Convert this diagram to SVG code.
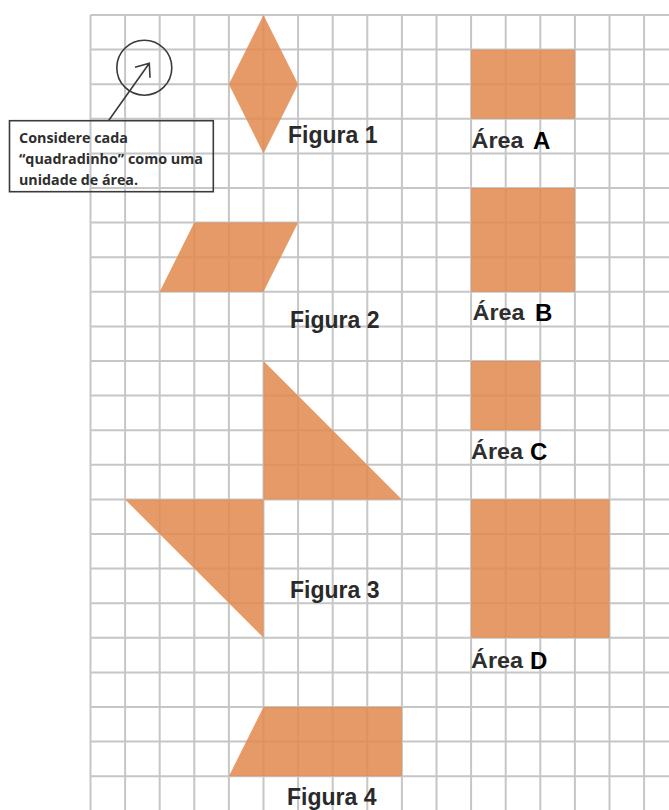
<svg xmlns="http://www.w3.org/2000/svg" width="669" height="810" viewBox="0 0 669 810">
<style>
.grid{fill:none;stroke:#c6c6c6;stroke-width:2}
.shape{fill:#e2894f;fill-opacity:0.86}
.fig{font-family:"Liberation Sans",Arial,sans-serif;font-weight:bold;font-size:23px;fill:#2a2a2a}
.area{font-family:"Liberation Sans",Arial,sans-serif;font-weight:bold;font-size:22px;fill:#2e2e2e}
.letter{font-family:"Liberation Sans",Arial,sans-serif;font-weight:bold;font-size:24px;fill:#000}
.note{font-family:"Open Sans","Liberation Sans",sans-serif;font-weight:bold;font-size:15px;fill:#2e2e2e}
.ink{fill:none;stroke:#3a3a3a;stroke-width:1.6}
</style>
<rect width="669" height="810" fill="#fff"/>
<g id="grid">
<path class="grid" d="M90.5 15V810M125.1 15V810M159.7 15V810M194.3 15V810M228.9 15V810M263.5 15V810M298.1 15V810M332.7 15V810M367.3 15V810M401.9 15V810M436.5 15V810M471.1 15V810M505.7 15V810M540.3 15V810M574.9 15V810M609.5 15V810M644.1 15V810
M90.5 15H669M90.5 49.6H669M90.5 84.2H669M90.5 118.8H669M90.5 153.4H669M90.5 188H669M90.5 222.6H669M90.5 257.2H669M90.5 291.8H669M90.5 326.4H669M90.5 361H669M90.5 395.6H669M90.5 430.2H669M90.5 464.8H669M90.5 499.4H669M90.5 534H669M90.5 568.6H669M90.5 603.2H669M90.5 637.8H669M90.5 672.4H669M90.5 707H669M90.5 741.6H669M90.5 776.2H669"/>
</g>
<g id="figura1">
<polygon class="shape" points="263.5,15 298.1,84.2 263.5,153.4 228.9,84.2"/>
<text class="fig" x="288" y="143">Figura 1</text>
</g>
<g id="figura2">
<polygon class="shape" points="194.3,222.6 298.1,222.6 263.5,291.8 159.7,291.8"/>
<text class="fig" x="290" y="328">Figura 2</text>
</g>
<g id="figura3">
<polygon class="shape" points="263.5,361 401.9,499.4 263.5,499.4"/>
<polygon class="shape" points="125.1,499.4 263.5,499.4 263.5,637.8"/>
<text class="fig" x="290" y="598">Figura 3</text>
</g>
<g id="figura4">
<polygon class="shape" points="263.5,707 401.9,707 401.9,776.2 228.9,776.2"/>
<text class="fig" x="287" y="805">Figura 4</text>
</g>
<g id="areaA">
<rect class="shape" x="471.1" y="49.6" width="103.8" height="69.2"/>
<text class="area" x="471.5" y="148" textLength="52" lengthAdjust="spacingAndGlyphs">Área</text>
<text class="letter" x="533" y="149">A</text>
</g>
<g id="areaB">
<rect class="shape" x="471.1" y="188" width="103.8" height="103.8"/>
<text class="area" x="472.5" y="320" textLength="52" lengthAdjust="spacingAndGlyphs">Área</text>
<text class="letter" x="535" y="321">B</text>
</g>
<g id="areaC">
<rect class="shape" x="471.1" y="361" width="69.2" height="69.2"/>
<text class="area" x="471" y="459" textLength="52" lengthAdjust="spacingAndGlyphs">Área</text>
<text class="letter" x="530" y="460">C</text>
</g>
<g id="areaD">
<rect class="shape" x="471.1" y="499.4" width="138.4" height="138.4"/>
<text class="area" x="471" y="668" textLength="52" lengthAdjust="spacingAndGlyphs">Área</text>
<text class="letter" x="530" y="669">D</text>
</g>
<g id="circulo">
<circle class="ink" cx="144.3" cy="67.7" r="27.5"/>
</g>
<g id="nota">
<rect class="ink" x="9.5" y="120.7" width="203.8" height="71"/>
<text class="note" x="19" y="143" textLength="109" lengthAdjust="spacingAndGlyphs">Considere cada</text>
<text class="note" x="19" y="164" textLength="184" lengthAdjust="spacingAndGlyphs">“quadradinho” como uma</text>
<text class="note" x="19" y="184.5" textLength="119" lengthAdjust="spacingAndGlyphs">unidade de área.</text>
</g>
<g id="connectors">
<path class="ink" d="M108.5 120.7L149.3 63.3M135 67.3L149.3 63.3L150 77.7"/>
</g>
</svg>
